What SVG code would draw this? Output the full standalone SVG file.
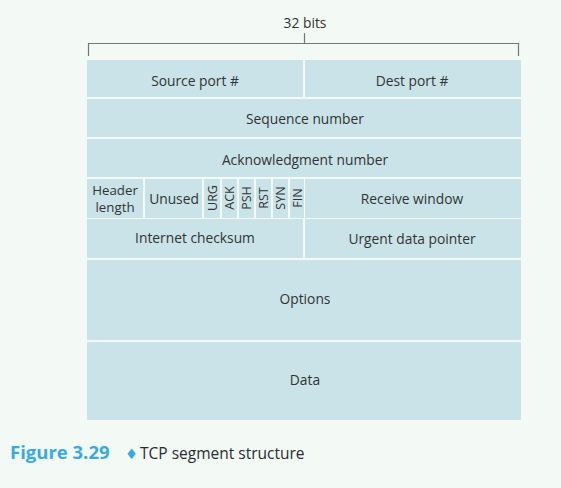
<svg xmlns="http://www.w3.org/2000/svg" width="561" height="488" viewBox="0 0 561 488">
<style>
.f{fill:#c9e3e8}
.t{font-family:"Open Sans","Noto Sans",sans-serif;font-size:13.8px;fill:#333;text-anchor:middle;dominant-baseline:central}
.fl{font-family:"Open Sans","Noto Sans",sans-serif;font-size:12.5px;fill:#333;text-anchor:middle;dominant-baseline:central}
.br{stroke:#777;stroke-width:1.2;fill:none}
</style>
<rect width="561" height="488" fill="#f3f9f4"/>
<g id="bracket">
<path class="br" d="M88.5 56V43.5H518.5V56M304.5 43.5V33"/>
<text x="305" y="22" class="t">32 bits</text>
</g>
<g id="source-port"><rect class="f" x="87" y="60" width="216" height="37"/><text class="t" x="195" y="80">Source port #</text></g>
<g id="dest-port"><rect class="f" x="305" y="60" width="216" height="37"/><text class="t" x="412" y="80">Dest port #</text></g>
<g id="sequence"><rect class="f" x="87" y="99" width="434" height="38"/><text class="t" x="305" y="118">Sequence number</text></g>
<g id="ack"><rect class="f" x="87" y="139" width="434" height="38"/><text class="t" x="305" y="159">Acknowledgment number</text></g>
<g id="header-length"><rect class="f" x="87" y="179" width="56" height="39"/><text class="t" x="115" y="189.5" style="font-size:13.3px">Header</text><text class="t" x="115" y="206.5" style="font-size:13.3px">length</text></g>
<g id="unused"><rect class="f" x="145" y="179" width="57" height="39"/><text class="t" x="174" y="198">Unused</text></g>
<g id="urg"><rect class="f" x="204" y="179" width="16" height="39"/><text class="fl" transform="translate(212.5 198) rotate(-90)">URG</text></g>
<g id="ack-flag"><rect class="f" x="222" y="179" width="15" height="39"/><text class="fl" transform="translate(229.5 198) rotate(-90)">ACK</text></g>
<g id="psh"><rect class="f" x="239" y="179" width="15" height="39"/><text class="fl" transform="translate(246.5 198) rotate(-90)">PSH</text></g>
<g id="rst"><rect class="f" x="256" y="179" width="15" height="39"/><text class="fl" transform="translate(263.5 198) rotate(-90)">RST</text></g>
<g id="syn"><rect class="f" x="273" y="179" width="15" height="39"/><text class="fl" transform="translate(280.5 198) rotate(-90)">SYN</text></g>
<g id="fin"><rect class="f" x="290" y="179" width="14" height="39"/><text class="fl" transform="translate(297 198) rotate(-90)">FIN</text></g>
<g id="receive-window"><rect class="f" x="305" y="179" width="216" height="39"/><text class="t" x="412" y="198">Receive window</text></g>
<g id="checksum"><rect class="f" x="87" y="219" width="216" height="39"/><text class="t" x="195" y="237">Internet checksum</text></g>
<g id="urgent-pointer"><rect class="f" x="305" y="219" width="216" height="39"/><text class="t" x="412" y="238">Urgent data pointer</text></g>
<g id="options"><rect class="f" x="87" y="260" width="434" height="80"/><text class="t" x="305" y="298">Options</text></g>
<g id="data"><rect class="f" x="87" y="342" width="434" height="78"/><text class="t" x="305" y="379">Data</text></g>
<g id="connectors"></g>
<g id="caption">
<text x="10" y="459" font-family="'Open Sans','Noto Sans',sans-serif" font-size="18.5" font-weight="bold" fill="#3aa9df">Figure 3.29</text>
<text x="125" y="459" font-family="'DejaVu Sans',sans-serif" font-size="14.5" fill="#3aa9df">♦</text>
<text x="140" y="459" font-family="'Open Sans','Noto Sans',sans-serif" font-size="15.5" fill="#2a2a35">TCP segment structure</text>
</g>
</svg>
